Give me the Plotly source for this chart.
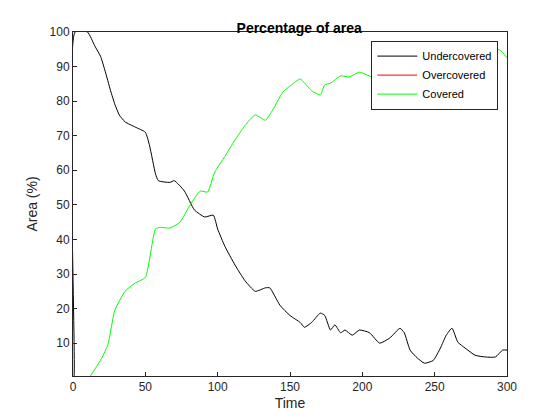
import plotly.graph_objects as go

# Undercovered (black)
t_under = [0, 0.7, 1.4, 10, 15, 19, 22, 26, 29, 32, 36, 43, 50, 53, 57, 59, 67, 70, 77, 84, 91, 97, 100,
           105, 112, 119, 126, 133, 136, 143, 150, 157, 160, 165, 171, 174, 178, 181, 185, 188, 193, 198,
           205, 212, 219, 226, 229, 233, 238, 243, 249, 254, 258, 262, 266, 271, 278, 285, 292, 297, 300]
under = [0, 0.5, 100, 100, 96, 93, 89, 83, 79, 76, 74, 72.5, 71, 67, 59, 57, 56.5, 57, 54, 48.5, 46.5, 47, 43,
         38, 32.6, 28, 25, 26, 26, 21, 18, 16, 14.6, 16, 18.7, 18, 13.8, 15.3, 13, 13.8, 12.3, 13.8,
         13, 10, 11.5, 14.3, 13, 8, 5.7, 4.2, 5, 8.6, 12.3, 14.3, 10.3, 8.6, 6.5, 6, 6, 8, 8]

# Overcovered (red) - stays at zero
t_over = [0, 300]
over = [0, 0]

# Covered (green)
t_cov = [12, 19, 24, 29, 36, 43, 50, 57, 60, 67, 74, 81, 88, 93, 98, 105, 112, 119, 126, 133, 138, 145,
         151, 157, 165, 171, 174, 178, 185, 191, 198, 209, 216, 226, 233, 243, 254, 264, 274, 288, 295, 300]
cov = [0.5, 5, 9.4, 19.6, 25, 27.4, 29, 43, 43.5, 43.3, 45, 50, 54, 53.7, 59.5, 64, 68.8, 73, 76, 74.5, 77.4, 82.6,
       84.7, 86.4, 83, 81.8, 84.7, 85.2, 87.3, 87, 88.4, 86.7, 88.4, 88.4, 89, 90.4, 93.3, 94.2, 95.4, 95.4, 94.8, 92.5]

fig = go.Figure()
fig.add_trace(go.Scatter(x=t_under, y=under, mode="lines", name="Undercovered",
                         line=dict(color="black", width=1, shape="spline", smoothing=0.5)))
fig.add_trace(go.Scatter(x=t_over, y=over, mode="lines", name="Overcovered",
                         line=dict(color="red", width=1)))
fig.add_trace(go.Scatter(x=t_cov, y=cov, mode="lines", name="Covered",
                         line=dict(color="#00ff00", width=1, shape="spline", smoothing=0.5)))

ax = dict(showline=True, linecolor="#262626", linewidth=1, mirror=True, ticks="inside",
          ticklen=4, tickcolor="#262626", showgrid=False, zeroline=False,
          tickfont=dict(family="Liberation Sans, Arial", size=12, color="#262626"))
fig.update_xaxes(range=[0, 300], tickvals=[0, 50, 100, 150, 200, 250, 300],
                 title=dict(text="Time", font=dict(size=14, color="#262626"), standoff=4), **ax)
fig.update_yaxes(range=[0.5, 100], tickvals=[10, 20, 30, 40, 50, 60, 70, 80, 90, 100],
                 title=dict(text="Area (%)", font=dict(size=14, color="#262626"), standoff=8), **ax)
fig.update_layout(
    width=560, height=420, paper_bgcolor="white", plot_bgcolor="white",
    margin=dict(l=65, r=61, t=24, b=52),
    font=dict(family="Liberation Sans, Arial", color="#262626"),
    title=dict(text="<b>Percentage of area</b>", x=0.52, xanchor="center", y=0.965, font=dict(size=14, color="black")),
    legend=dict(x=0.98, y=0.975, xanchor="right", yanchor="top", bgcolor="white",
                bordercolor="#262626", borderwidth=1, font=dict(size=11, color="black"),
                tracegroupgap=0, itemwidth=40),
)
fig.write_html("out.html")
